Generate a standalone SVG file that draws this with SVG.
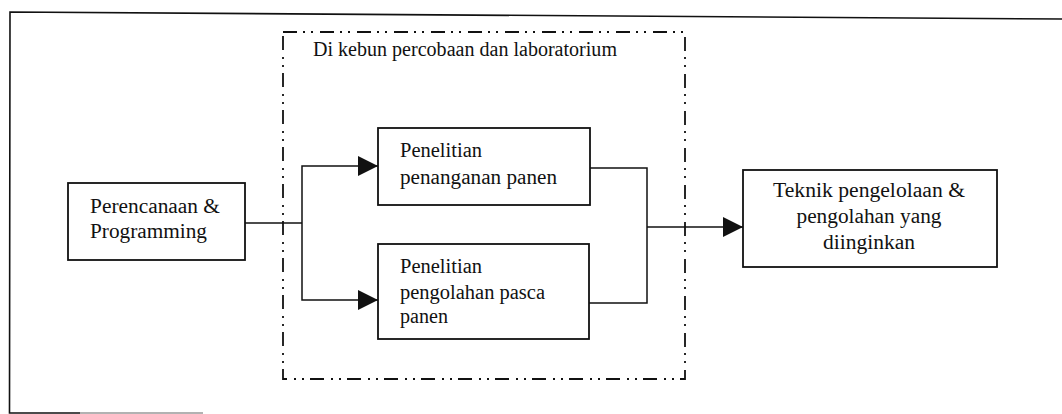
<svg xmlns="http://www.w3.org/2000/svg" width="1062" height="414" viewBox="0 0 1062 414">
  <style>
    .frame { fill: none; stroke: #111; stroke-width: 1.6; }
    .box { fill: #fff; stroke: #111; stroke-width: 1.8; }
    .zone { fill: none; stroke: #111; stroke-width: 1.8; stroke-dasharray: 14 6 2 6 2 7; }
    .wire { fill: none; stroke: #111; stroke-width: 1.5; }
    .lbl { font-family: "Liberation Serif", "Times New Roman", serif; font-size: 20px; fill: #111; }
    .mid { text-anchor: middle; }
  </style>
  <defs>
    <marker id="head" viewBox="0 0 20 20" refX="20" refY="10" markerWidth="20" markerHeight="20" markerUnits="userSpaceOnUse" orient="auto">
      <path d="M0,0 L20,10 L0,20 Z" fill="#111"/>
    </marker>
  </defs>

  <rect width="1062" height="414" fill="#fff"/>

  <!-- outer page frame (open on the right and bottom) -->
  <g id="frame">
    <path class="frame" d="M1062,19 L10,12 L9.5,413 L80,413"/>
    <line x1="80" y1="413" x2="203" y2="413" stroke="#999" stroke-width="1.4"/>
  </g>

  <!-- field / laboratory zone -->
  <g id="zone">
    <rect class="zone" x="283" y="32" width="402" height="347"/>
    <text class="lbl" x="313" y="56" textLength="304" lengthAdjust="spacingAndGlyphs">Di kebun percobaan dan laboratorium</text>
  </g>

  <g id="connectors">
    <polyline class="wire" points="245,223 302,223"/>
    <polyline class="wire" points="302,223 302,166 378,166" marker-end="url(#head)"/>
    <polyline class="wire" points="302,223 302,300 378,300" marker-end="url(#head)"/>
    <polyline class="wire" points="590,168 647,168 647,303 589,303"/>
    <polyline class="wire" points="647,227 743,227" marker-end="url(#head)"/>
  </g>

  <g id="planning">
    <rect class="box" x="68" y="183" width="177" height="77"/>
    <text class="lbl" x="90" y="213" textLength="130" lengthAdjust="spacingAndGlyphs">Perencanaan &amp;</text>
    <text class="lbl" x="90" y="238" textLength="117" lengthAdjust="spacingAndGlyphs">Programming</text>
  </g>

  <g id="harvest-handling">
    <rect class="box" x="378" y="128" width="212" height="77"/>
    <text class="lbl" x="400" y="157" textLength="82" lengthAdjust="spacingAndGlyphs">Penelitian</text>
    <text class="lbl" x="400" y="184" textLength="157" lengthAdjust="spacingAndGlyphs">penanganan panen</text>
  </g>

  <g id="post-harvest">
    <rect class="box" x="378" y="244" width="211" height="95"/>
    <text class="lbl" x="400" y="273" textLength="82" lengthAdjust="spacingAndGlyphs">Penelitian</text>
    <text class="lbl" x="400" y="299" textLength="145" lengthAdjust="spacingAndGlyphs">pengolahan pasca</text>
    <text class="lbl" x="400" y="323" textLength="48" lengthAdjust="spacingAndGlyphs">panen</text>
  </g>

  <g id="outcome">
    <rect class="box" x="743" y="170" width="254" height="97"/>
    <text class="lbl mid" x="869" y="197" textLength="192" lengthAdjust="spacingAndGlyphs">Teknik pengelolaan &amp;</text>
    <text class="lbl mid" x="869" y="223" textLength="145" lengthAdjust="spacingAndGlyphs">pengolahan yang</text>
    <text class="lbl mid" x="869" y="249" textLength="92" lengthAdjust="spacingAndGlyphs">diinginkan</text>
  </g>
</svg>
